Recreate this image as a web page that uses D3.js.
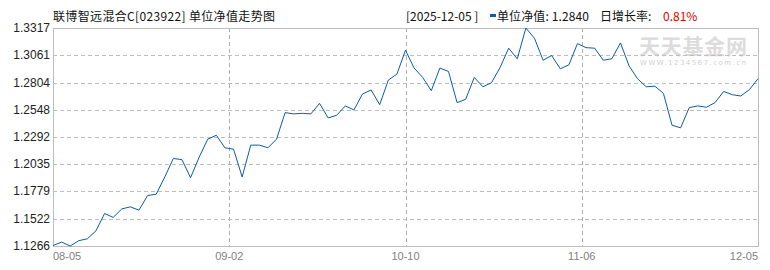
<!DOCTYPE html>
<html>
<head>
<meta charset="utf-8">
<script src="https://cdn.jsdelivr.net/npm/d3@7"></script>
<style>
    body { margin: 0; background: #fff; }
    svg { display: block; }
</style>
</head>
<body>
<svg id="grafic" width="770" height="270"></svg>
<script>
// ------------------DADES------------------
// valors del net unitari (un per dia de cotització, del 08-05 al 12-05)
var valors = [
    1.1270, 1.1303, 1.1266, 1.1316, 1.1334, 1.1409, 1.1572, 1.1535, 1.1615, 1.1634,
    1.1603, 1.1741, 1.1753, 1.1915, 1.2090, 1.2078, 1.1909, 1.2102, 1.2271, 1.2308,
    1.2190, 1.2177, 1.1915, 1.2215, 1.2215, 1.2190, 1.2271, 1.2521, 1.2509, 1.2514,
    1.2509, 1.2608, 1.2471, 1.2496, 1.2584, 1.2546, 1.2696, 1.2734, 1.2596, 1.2827,
    1.2883, 1.3108, 1.2940, 1.2852, 1.2727, 1.2940, 1.2908, 1.2615, 1.2646, 1.2852,
    1.2764, 1.2802, 1.2945, 1.3127, 1.3027, 1.3317, 1.3221, 1.3014, 1.3058, 1.2933,
    1.2970, 1.3170, 1.3132, 1.3127, 1.3014, 1.3027, 1.3177, 1.2961, 1.2839, 1.2764,
    1.2770, 1.2702, 1.2402, 1.2378, 1.2568, 1.2584, 1.2571, 1.2615, 1.2720, 1.2690,
    1.2677, 1.2737, 1.2840
];
// etiquetes de l'eix Y
var ticksY = [1.1266, 1.1522, 1.1779, 1.2035, 1.2292, 1.2548, 1.2804, 1.3061, 1.3317];
// etiquetes de l'eix X (repartides en parts iguals)
var ticksX = ["08-05", "09-02", "10-10", "11-06", "12-05"];

var titol = "联博智远混合C[023922] 单位净值走势图";
var dataUltima = "[2025-12-05 ]";
var valorUltim = "单位净值: 1.2840";
var textCreixement = "日增长率:";
var creixement = "0.81%";

// ------------------ESCALES------------------
var esquerra = 53, dreta = 758, dalt = 28, baix = 246;
var svg = d3.select("#grafic");

var x = d3.scaleLinear().domain([0, valors.length - 1]).range([esquerra, dreta]);
var y = d3.scaleLinear().domain([ticksY[0], ticksY[ticksY.length - 1]]).range([baix, dalt]);

// posició (en index) de cada etiqueta de l'eix X
function posicioTickX(i) {
    return i * (valors.length - 1) / (ticksX.length - 1);
}

// ------------------FUNCIONS------------------
//funcio que dibuixa la marca d'aigua
function dibuixarMarcaAigua() {
    svg.append("text")
        .attr("x", 639).attr("y", 54)
        .attr("textLength", 108)
        .style("font-family", "'Noto Sans CJK SC'")
        .style("font-size", "21px")
        .style("font-weight", "bold")
        .style("fill", "#dcdcdc")
        .text("天天基金网");
    svg.append("text")
        .attr("x", 640).attr("y", 65)
        .attr("textLength", 106)
        .style("font-family", "'DejaVu Sans'")
        .style("font-size", "7px")
        .style("fill", "#d0d0d0")
        .text("WWW.1234567.com.cn");
}

//funcio que dibuixa la graella i la vora
function dibuixarGraella() {
    // linies horitzontals discontinues
    svg.append("g").selectAll("line")
        .data(ticksY.slice(1, -1))
        .join("line")
        .attr("x1", esquerra).attr("x2", dreta)
        .attr("y1", d => Math.round(y(d)) + 0.5)
        .attr("y2", d => Math.round(y(d)) + 0.5)
        .style("stroke", "#bdbdbd")
        .style("stroke-dasharray", "4,3");
    // linies verticals discontinues
    svg.append("g").selectAll("line")
        .data(d3.range(1, ticksX.length - 1))
        .join("line")
        .attr("x1", d => Math.round(x(posicioTickX(d))) + 0.5)
        .attr("x2", d => Math.round(x(posicioTickX(d))) + 0.5)
        .attr("y1", dalt).attr("y2", baix)
        .style("stroke", "#b0b0b0")
        .style("stroke-dasharray", "4,3");
    // vora
    svg.append("rect")
        .attr("x", esquerra + 0.5).attr("y", dalt + 0.5)
        .attr("width", dreta - esquerra).attr("height", baix - dalt)
        .style("fill", "none")
        .style("stroke", "#bdbdbd");
}

//funcio que dibuixa les etiquetes dels eixos
function dibuixarEixos() {
    svg.append("g").selectAll("text")
        .data(ticksY)
        .join("text")
        .attr("x", esquerra - 3)
        .attr("y", d => y(d) + 4)
        .attr("text-anchor", "end")
        .style("font-family", "'Liberation Sans'")
        .style("font-size", "12px")
        .style("fill", "#222")
        .text(d => d.toFixed(4));

    svg.append("g").selectAll("text")
        .data(ticksX)
        .join("text")
        .attr("x", (d, i) => x(posicioTickX(i)))
        .attr("y", 260)
        .attr("text-anchor", (d, i) => i == 0 ? "start" : (i == ticksX.length - 1 ? "end" : "middle"))
        .style("font-family", "'Liberation Sans'")
        .style("font-size", "11px")
        .style("fill", "#808080")
        .text(d => d);
}

//funcio que dibuixa la linia del valor
function dibuixarLinia() {
    var linia = d3.line()
        .x((d, i) => x(i))
        .y(d => y(d));
    svg.append("path")
        .datum(valors)
        .attr("d", linia)
        .style("fill", "none")
        .style("stroke", "#0b5cad")
        .style("stroke-width", 1);
}

//funcio que dibuixa el titol i la llegenda
function dibuixarTitol() {
    var font = "'Noto Sans CJK SC'";
    svg.append("text")
        .attr("x", 53).attr("y", 21)
        .attr("textLength", 222)
        .style("font-family", font).style("font-size", "12px").style("fill", "#111")
        .text(titol);
    svg.append("text")
        .attr("x", 406).attr("y", 21)
        .style("font-family", font).style("font-size", "12px").style("fill", "#111")
        .text(dataUltima);
    svg.append("rect")
        .attr("x", 490).attr("y", 14).attr("width", 6).attr("height", 3)
        .style("fill", "#0b5cad");
    svg.append("text")
        .attr("x", 497).attr("y", 21)
        .attr("textLength", 92)
        .style("font-family", font).style("font-size", "12px").style("fill", "#111")
        .text(valorUltim);
    svg.append("text")
        .attr("x", 600).attr("y", 21)
        .style("font-family", font).style("font-size", "12px").style("fill", "#111")
        .text(textCreixement);
    svg.append("text")
        .attr("x", 663).attr("y", 21)
        .style("font-family", font).style("font-size", "12px").style("fill", "#e00000")
        .text(creixement);
}

// ------------------MAIN------------------
dibuixarMarcaAigua();
dibuixarGraella();
dibuixarEixos();
dibuixarLinia();
dibuixarTitol();
</script>
</body>
</html>
